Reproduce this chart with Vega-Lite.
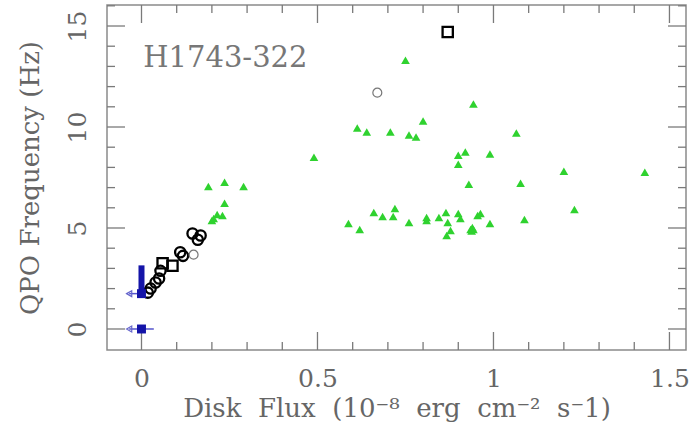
{
  "$schema": "https://vega.github.io/schema/vega-lite/v6.json",
  "width": 579,
  "height": 345,
  "autosize": "none",
  "padding": {"left": 107, "top": 5, "right": 5, "bottom": 80},
  "background": "white",
  "config": {
    "view": {"stroke": "#8a8a8a", "strokeWidth": 1.5},
    "font": "DejaVu Serif",
    "axis": {
      "domain": false,
      "grid": false,
      "labelColor": "#666666",
      "labelFont": "DejaVu Serif",
      "labelFontSize": 25,
      "titleColor": "#666666",
      "titleFont": "DejaVu Serif",
      "titleFontSize": 26,
      "titleFontWeight": "normal",
      "labelFlush": false,
      "labelOverlap": false
    }
  },
  "datasets": {
    "green": [
      {"flux": 0.19, "freq": 7.06}, {"flux": 0.236, "freq": 7.26}, {"flux": 0.29, "freq": 7.06},
      {"flux": 0.236, "freq": 6.22}, {"flux": 0.215, "freq": 5.67}, {"flux": 0.23, "freq": 5.62},
      {"flux": 0.20, "freq": 5.37}, {"flux": 0.205, "freq": 5.47},
      {"flux": 0.49, "freq": 8.5}, {"flux": 0.613, "freq": 9.95}, {"flux": 0.64, "freq": 9.75},
      {"flux": 0.707, "freq": 9.75}, {"flux": 0.75, "freq": 13.3}, {"flux": 0.80, "freq": 10.3},
      {"flux": 0.76, "freq": 9.6}, {"flux": 0.78, "freq": 9.5}, {"flux": 0.943, "freq": 11.14},
      {"flux": 1.065, "freq": 9.7}, {"flux": 0.90, "freq": 8.6}, {"flux": 0.92, "freq": 8.76},
      {"flux": 0.90, "freq": 8.16}, {"flux": 0.99, "freq": 8.66}, {"flux": 0.93, "freq": 7.16},
      {"flux": 1.077, "freq": 7.21}, {"flux": 1.20, "freq": 7.81}, {"flux": 1.43, "freq": 7.76},
      {"flux": 1.23, "freq": 5.92}, {"flux": 1.088, "freq": 5.42},
      {"flux": 0.588, "freq": 5.22}, {"flux": 0.62, "freq": 4.93}, {"flux": 0.66, "freq": 5.77},
      {"flux": 0.685, "freq": 5.57}, {"flux": 0.715, "freq": 5.57}, {"flux": 0.72, "freq": 5.97},
      {"flux": 0.76, "freq": 5.27}, {"flux": 0.81, "freq": 5.37}, {"flux": 0.81, "freq": 5.52},
      {"flux": 0.845, "freq": 5.52}, {"flux": 0.865, "freq": 5.77}, {"flux": 0.87, "freq": 5.27},
      {"flux": 0.867, "freq": 4.63}, {"flux": 0.878, "freq": 4.88}, {"flux": 0.90, "freq": 5.72},
      {"flux": 0.906, "freq": 5.47}, {"flux": 0.935, "freq": 4.93}, {"flux": 0.943, "freq": 4.93},
      {"flux": 0.94, "freq": 5.02}, {"flux": 0.938, "freq": 4.85},
      {"flux": 0.955, "freq": 5.62}, {"flux": 0.963, "freq": 5.72}, {"flux": 0.99, "freq": 5.22}
    ],
    "black": [
      {"flux": 0.87, "freq": 14.7, "shape": "square"},
      {"flux": 0.145, "freq": 4.73, "shape": "circle"},
      {"flux": 0.168, "freq": 4.63, "shape": "circle"},
      {"flux": 0.16, "freq": 4.42, "shape": "circle"},
      {"flux": 0.11, "freq": 3.8, "shape": "circle"},
      {"flux": 0.118, "freq": 3.62, "shape": "circle"},
      {"flux": 0.088, "freq": 3.13, "shape": "square"},
      {"flux": 0.06, "freq": 3.25, "shape": "square"},
      {"flux": 0.054, "freq": 2.88, "shape": "circle"},
      {"flux": 0.05, "freq": 2.5, "shape": "circle"},
      {"flux": 0.04, "freq": 2.3, "shape": "circle"},
      {"flux": 0.026, "freq": 2.0, "shape": "circle"},
      {"flux": 0.018, "freq": 1.8, "shape": "circle"}
    ],
    "gray": [
      {"flux": 0.148, "freq": 3.68},
      {"flux": 0.67, "freq": 11.7}
    ],
    "bluebar": [
      {"flux": 0, "lo": 1.75, "hi": 3.15}
    ],
    "bluehoriz": [
      {"lo": -0.035, "hi": 0.035, "freq": 0},
      {"lo": -0.035, "hi": 0.0, "freq": 1.75}
    ],
    "bluesq": [
      {"flux": 0, "freq": 0},
      {"flux": 0, "freq": 1.75}
    ],
    "label": [
      {"flux": 0.005, "freq": 13.4, "name": "H1743-322"}
    ],
    "xmaj": [{"v": 0}, {"v": 0.5}, {"v": 1}, {"v": 1.5}],
    "xmin": [{"v": 0.1}, {"v": 0.2}, {"v": 0.3}, {"v": 0.4}, {"v": 0.6}, {"v": 0.7}, {"v": 0.8}, {"v": 0.9}, {"v": 1.1}, {"v": 1.2}, {"v": 1.3}, {"v": 1.4}],
    "ymaj": [{"v": 0}, {"v": 5}, {"v": 10}, {"v": 15}],
    "ymin": [{"v": 1}, {"v": 2}, {"v": 3}, {"v": 4}, {"v": 6}, {"v": 7}, {"v": 8}, {"v": 9}, {"v": 11}, {"v": 12}, {"v": 13}, {"v": 14}, {"v": 16}]
  },
  "resolve": {"axis": {"x": "independent", "y": "independent"}},
  "layer": [
    {
      "data": {"name": "green"},
      "mark": {"type": "point", "shape": "triangle-up", "filled": true, "color": "#2fd22f", "opacity": 1, "size": 75},
      "encoding": {
        "x": {
          "field": "flux", "type": "quantitative",
          "scale": {"domain": [-0.098, 1.547], "nice": false, "zero": false},
          "axis": {
            "orient": "bottom",
            "title": "Disk\u00a0\u00a0Flux\u00a0\u00a0(10⁻⁸\u00a0\u00a0erg\u00a0\u00a0cm⁻²\u00a0\u00a0s⁻1)",
            "titlePadding": 4,
            "values": [0, 0.5, 1, 1.5],
            "format": "~g",
            "ticks": false,
            "tickSize": 0,
            "labelPadding": 16
          }
        },
        "y": {
          "field": "freq", "type": "quantitative",
          "scale": {"domain": [-1.04, 16.04], "nice": false, "zero": false},
          "axis": {
            "orient": "left",
            "title": "QPO Frequency (Hz)",
            "titlePadding": 22,
            "values": [0, 5, 10, 15],
            "ticks": false,
            "tickSize": 0,
            "labelAngle": -90,
            "labelAlign": "center",
            "labelBaseline": "bottom",
            "labelPadding": 17
          }
        }
      }
    },
    {
      "data": {"name": "xmaj"},
      "mark": {"type": "tick", "orient": "vertical", "size": 18, "thickness": 1.3, "color": "#7a7a7a", "opacity": 1, "yOffset": -9},
      "encoding": {
        "x": {"field": "v", "type": "quantitative", "scale": {"domain": [-0.098, 1.547], "nice": false, "zero": false}, "axis": null},
        "y": {"datum": -1.04, "type": "quantitative", "scale": {"domain": [-1.04, 16.04], "nice": false, "zero": false}, "axis": null}
      }
    },
    {
      "data": {"name": "xmaj"},
      "mark": {"type": "tick", "orient": "vertical", "size": 18, "thickness": 1.3, "color": "#7a7a7a", "opacity": 1, "yOffset": 9},
      "encoding": {
        "x": {"field": "v", "type": "quantitative", "scale": {"domain": [-0.098, 1.547], "nice": false, "zero": false}, "axis": null},
        "y": {"datum": 16.04, "type": "quantitative", "scale": {"domain": [-1.04, 16.04], "nice": false, "zero": false}, "axis": null}
      }
    },
    {
      "data": {"name": "xmin"},
      "mark": {"type": "tick", "orient": "vertical", "size": 8, "thickness": 1.3, "color": "#7a7a7a", "opacity": 1, "yOffset": -4},
      "encoding": {
        "x": {"field": "v", "type": "quantitative", "scale": {"domain": [-0.098, 1.547], "nice": false, "zero": false}, "axis": null},
        "y": {"datum": -1.04, "type": "quantitative", "scale": {"domain": [-1.04, 16.04], "nice": false, "zero": false}, "axis": null}
      }
    },
    {
      "data": {"name": "xmin"},
      "mark": {"type": "tick", "orient": "vertical", "size": 8, "thickness": 1.3, "color": "#7a7a7a", "opacity": 1, "yOffset": 4},
      "encoding": {
        "x": {"field": "v", "type": "quantitative", "scale": {"domain": [-0.098, 1.547], "nice": false, "zero": false}, "axis": null},
        "y": {"datum": 16.04, "type": "quantitative", "scale": {"domain": [-1.04, 16.04], "nice": false, "zero": false}, "axis": null}
      }
    },
    {
      "data": {"name": "ymaj"},
      "mark": {"type": "tick", "orient": "horizontal", "size": 18, "thickness": 1.3, "color": "#7a7a7a", "opacity": 1, "xOffset": 9},
      "encoding": {
        "y": {"field": "v", "type": "quantitative", "scale": {"domain": [-1.04, 16.04], "nice": false, "zero": false}, "axis": null},
        "x": {"datum": -0.098, "type": "quantitative", "scale": {"domain": [-0.098, 1.547], "nice": false, "zero": false}, "axis": null}
      }
    },
    {
      "data": {"name": "ymaj"},
      "mark": {"type": "tick", "orient": "horizontal", "size": 18, "thickness": 1.3, "color": "#7a7a7a", "opacity": 1, "xOffset": -9},
      "encoding": {
        "y": {"field": "v", "type": "quantitative", "scale": {"domain": [-1.04, 16.04], "nice": false, "zero": false}, "axis": null},
        "x": {"datum": 1.547, "type": "quantitative", "scale": {"domain": [-0.098, 1.547], "nice": false, "zero": false}, "axis": null}
      }
    },
    {
      "data": {"name": "ymin"},
      "mark": {"type": "tick", "orient": "horizontal", "size": 8, "thickness": 1.3, "color": "#7a7a7a", "opacity": 1, "xOffset": 4},
      "encoding": {
        "y": {"field": "v", "type": "quantitative", "scale": {"domain": [-1.04, 16.04], "nice": false, "zero": false}, "axis": null},
        "x": {"datum": -0.098, "type": "quantitative", "scale": {"domain": [-0.098, 1.547], "nice": false, "zero": false}, "axis": null}
      }
    },
    {
      "data": {"name": "ymin"},
      "mark": {"type": "tick", "orient": "horizontal", "size": 8, "thickness": 1.3, "color": "#7a7a7a", "opacity": 1, "xOffset": -4},
      "encoding": {
        "y": {"field": "v", "type": "quantitative", "scale": {"domain": [-1.04, 16.04], "nice": false, "zero": false}, "axis": null},
        "x": {"datum": 1.547, "type": "quantitative", "scale": {"domain": [-0.098, 1.547], "nice": false, "zero": false}, "axis": null}
      }
    },
    {
      "data": {"name": "black"},
      "mark": {"type": "point", "filled": false, "stroke": "black", "strokeWidth": 2.3, "size": 105, "opacity": 1},
      "encoding": {
        "x": {"field": "flux", "type": "quantitative", "scale": {"domain": [-0.098, 1.547], "nice": false, "zero": false}, "axis": null},
        "y": {"field": "freq", "type": "quantitative", "scale": {"domain": [-1.04, 16.04], "nice": false, "zero": false}, "axis": null},
        "shape": {"field": "shape", "type": "nominal", "scale": {"domain": ["circle", "square"], "range": ["circle", "square"]}, "legend": null}
      }
    },
    {
      "data": {"name": "gray"},
      "mark": {"type": "point", "shape": "circle", "filled": false, "stroke": "#777777", "strokeWidth": 1.2, "size": 80, "opacity": 1},
      "encoding": {
        "x": {"field": "flux", "type": "quantitative", "scale": {"domain": [-0.098, 1.547], "nice": false, "zero": false}, "axis": null},
        "y": {"field": "freq", "type": "quantitative", "scale": {"domain": [-1.04, 16.04], "nice": false, "zero": false}, "axis": null}
      }
    },
    {
      "mark": {"type": "rule", "color": "black", "strokeWidth": 2, "strokeDash": [13, 9]},
      "encoding": {
        "y": {"datum": 0, "type": "quantitative", "scale": {"domain": [-1.04, 16.04], "nice": false, "zero": false}, "axis": null}
      }
    },
    {
      "data": {"name": "bluebar"},
      "mark": {"type": "rule", "color": "#1414a8", "strokeWidth": 6},
      "encoding": {
        "x": {"field": "flux", "type": "quantitative", "scale": {"domain": [-0.098, 1.547], "nice": false, "zero": false}, "axis": null},
        "y": {"field": "lo", "type": "quantitative", "scale": {"domain": [-1.04, 16.04], "nice": false, "zero": false}, "axis": null},
        "y2": {"field": "hi"}
      }
    },
    {
      "data": {"name": "bluehoriz"},
      "mark": {"type": "rule", "color": "#5555cc", "strokeWidth": 1.5},
      "encoding": {
        "x": {"field": "lo", "type": "quantitative", "scale": {"domain": [-0.098, 1.547], "nice": false, "zero": false}, "axis": null},
        "x2": {"field": "hi"},
        "y": {"field": "freq", "type": "quantitative", "scale": {"domain": [-1.04, 16.04], "nice": false, "zero": false}, "axis": null}
      }
    },
    {
      "data": {"name": "bluehoriz"},
      "mark": {"type": "point", "shape": "triangle-left", "filled": false, "stroke": "#6666cc", "strokeWidth": 1.2, "size": 35, "opacity": 1},
      "encoding": {
        "x": {"field": "lo", "type": "quantitative", "scale": {"domain": [-0.098, 1.547], "nice": false, "zero": false}, "axis": null},
        "y": {"field": "freq", "type": "quantitative", "scale": {"domain": [-1.04, 16.04], "nice": false, "zero": false}, "axis": null}
      }
    },
    {
      "data": {"name": "bluesq"},
      "mark": {"type": "point", "shape": "square", "filled": true, "color": "#1414a8", "opacity": 1, "size": 80},
      "encoding": {
        "x": {"field": "flux", "type": "quantitative", "scale": {"domain": [-0.098, 1.547], "nice": false, "zero": false}, "axis": null},
        "y": {"field": "freq", "type": "quantitative", "scale": {"domain": [-1.04, 16.04], "nice": false, "zero": false}, "axis": null}
      }
    },
    {
      "data": {"name": "label"},
      "mark": {"type": "text", "font": "DejaVu Serif", "fontSize": 29, "color": "#777777", "align": "left", "baseline": "middle"},
      "encoding": {
        "x": {"field": "flux", "type": "quantitative", "scale": {"domain": [-0.098, 1.547], "nice": false, "zero": false}, "axis": null},
        "y": {"field": "freq", "type": "quantitative", "scale": {"domain": [-1.04, 16.04], "nice": false, "zero": false}, "axis": null},
        "text": {"field": "name"}
      }
    }
  ]
}
